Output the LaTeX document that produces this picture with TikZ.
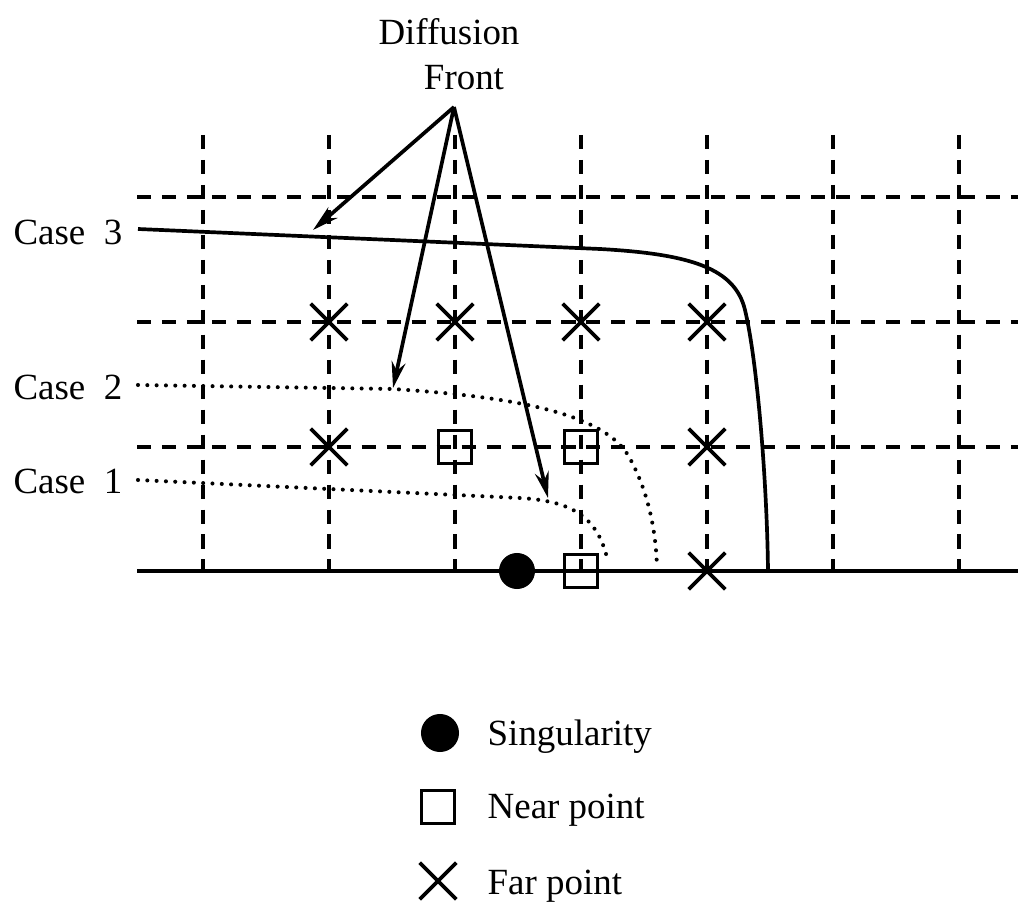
\documentclass[tikz,border=0pt]{standalone}
\usepackage{fontspec}
\setmainfont{Liberation Serif}
\usetikzlibrary{arrows.meta, shapes.misc}

\begin{document}
\begin{tikzpicture}[
    x=0.01cm, y=-0.01cm,
    font=\fontsize{10.5}{12.6}\selectfont,
    gridline/.style={line width=0.9pt, dash pattern=on 4pt off 3.1pt},
    front/.style={line width=1.05pt},
    dotfront/.style={line width=1.15pt, line cap=round, dash pattern=on 0pt off 2.65pt},
    farpt/.style={cross out, draw, line width=1.05pt, minimum size=0.33cm, inner sep=0pt},
    nearpt/.style={rectangle, draw, line width=1.05pt, minimum size=0.33cm, inner sep=0pt},
    singpt/.style={circle, fill=black, minimum size=0.36cm, inner sep=0pt},
    lbl/.style={inner sep=0pt},
    arr/.style={-{Stealth[length=7.5pt, width=4pt, inset=2.5pt]}, line width=1.05pt},
]
    \useasboundingbox (0,0) rectangle (1018,907);

    % ── Grid: columns and rows ──
    \def\colA{203}
    \def\colB{329}
    \def\colC{455}
    \def\colD{581}
    \def\colE{707}
    \def\colF{833}
    \def\colG{959}
    \def\rowA{197}
    \def\rowB{322}
    \def\rowC{447}
    \def\rowD{571}

    \draw[gridline] (\colA,135) -- (\colA,\rowD);
    \draw[gridline] (\colB,135) -- (\colB,\rowD);
    \draw[gridline] (\colC,135) -- (\colC,\rowD);
    \draw[gridline] (\colD,135) -- (\colD,\rowD);
    \draw[gridline] (\colE,135) -- (\colE,\rowD);
    \draw[gridline] (\colF,135) -- (\colF,\rowD);
    \draw[gridline] (\colG,135) -- (\colG,\rowD);

    \draw[gridline] (137,\rowA) -- (1018,\rowA);
    \draw[gridline] (137,\rowB) -- (1018,\rowB);
    \draw[gridline] (137,\rowC) -- (1018,\rowC);

    % Boundary
    \draw[front] (137,\rowD) -- (1018,\rowD);

    % ── Grid points ──
    \node[farpt] (fB2) at (\colB,\rowB) {};
    \node[farpt] (fC2) at (\colC,\rowB) {};
    \node[farpt] (fD2) at (\colD,\rowB) {};
    \node[farpt] (fE2) at (\colE,\rowB) {};
    \node[farpt] (fB3) at (\colB,\rowC) {};
    \node[farpt] (fE3) at (\colE,\rowC) {};
    \node[farpt] (fE4) at (\colE,\rowD) {};

    \node[nearpt] (nC3) at (\colC,\rowC) {};
    \node[nearpt] (nD3) at (\colD,\rowC) {};
    \node[nearpt] (nD4) at (\colD,\rowD) {};

    \node[singpt] (sing) at (517,\rowD) {};

    % ── Fronts ──
    \coordinate (c3s) at (138,229);
    \coordinate (c3e) at (768,571);
    \draw[front] (c3s) -- (600,249) .. controls (690,254) and (735,268) .. (745,310)
        .. controls (757,360) and (767,480) .. (c3e);

    \coordinate (c2s) at (138,385);
    \coordinate (c2e) at (657,568);
    \draw[dotfront] (c2s) -- (393,389) .. controls (500,396) and (600,410) .. (628,455)
        .. controls (648,490) and (656,530) .. (c2e);

    \coordinate (c1s) at (138,480);
    \coordinate (c1e) at (608,562);
    \draw[dotfront] (c1s) -- (520,498) .. controls (570,501) and (598,515) .. (c1e);

    % Case labels
    \node[lbl, anchor=base east] (case3) at (123,245) {Case\enspace 3};
    \node[lbl, anchor=base east] (case2) at (123,400) {Case\enspace 2};
    \node[lbl, anchor=base east] (case1) at (123,494) {Case\enspace 1};

    % ── Diffusion front label and pointers ──
    \node[lbl, anchor=base] (dif)   at (449,45) {Diffusion};
    \node[lbl, anchor=base] (front) at (464,90) {Front};

    \coordinate (apex) at (454,107);
    \coordinate (tip3) at (313,230);
    \coordinate (tip2) at (393,388);
    \coordinate (tip1) at (548,498);

    \draw[arr] (apex) -- (tip3);
    \draw[arr] (apex) -- (tip2);
    \draw[arr] (apex) -- (tip1);

    % ── Legend ──
    \node[singpt, minimum size=0.38cm] (legS) at (440,733) {};
    \node[nearpt] (legN) at (438,807) {};
    \node[farpt]  (legF) at (438,881) {};

    \node[lbl, anchor=base west] (txtS) at (487,745) {Singularity};
    \node[lbl, anchor=base west] (txtN) at (487,819) {Near point};
    \node[lbl, anchor=base west] (txtF) at (487,894) {Far point};

\end{tikzpicture}
\end{document}
